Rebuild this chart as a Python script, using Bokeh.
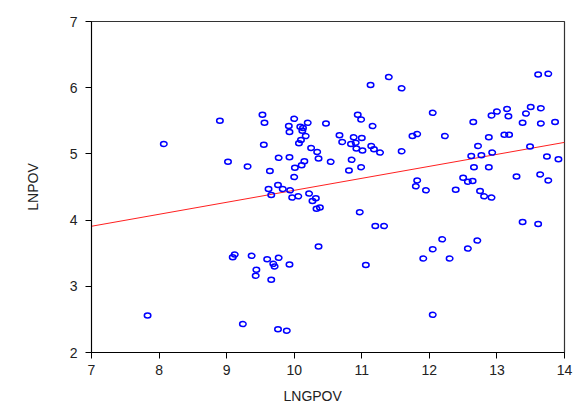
import numpy as np
from bokeh.plotting import figure
from bokeh.models import Range1d, FixedTicker, Title
from bokeh.embed import file_html
from bokeh.resources import INLINE

# log GDP per capita vs. log poverty, one point per observation
lngpov = [
    7.83, 8.07, 8.90, 9.02, 9.31, 9.12, 9.09, 9.37, 9.24, 9.53,
    9.56, 9.55, 9.44, 9.43, 9.60, 9.64, 9.62, 9.66, 9.66, 9.69,
    9.71, 9.76, 9.77, 9.77, 9.76, 9.83, 9.92, 9.93, 9.93, 9.93,
    9.89, 9.94, 9.97, 10.00, 10.00, 10.01, 10.06, 10.09, 10.13, 10.12,
    10.17, 10.10, 10.07, 10.20, 10.15, 10.11, 10.25, 10.34, 10.36, 10.22,
    10.27, 10.32, 10.36, 10.38, 10.33, 10.47, 10.54, 10.67, 10.71, 10.88,
    11.00, 10.84, 10.91, 10.92, 11.01, 11.14, 11.18, 11.27, 11.16, 10.94,
    10.99, 10.85, 10.81, 10.99, 11.13, 11.40, 11.59, 11.59, 10.97, 11.20,
    11.33, 11.06, 11.75, 11.82, 12.05, 12.23, 11.82, 11.80, 11.95, 11.91,
    12.05, 12.19, 12.30, 12.05, 12.39, 12.50, 12.57, 12.64, 12.75, 12.81,
    12.92, 12.57, 12.71, 12.62, 12.66, 12.77, 12.72, 12.65, 12.88, 12.88,
    12.93, 12.92, 13.00, 13.11, 13.18, 13.15, 13.17, 13.29, 13.38, 13.38,
    13.43, 13.50, 13.49, 13.61, 13.61, 13.76, 13.65, 13.65, 13.64, 13.74,
    13.76, 13.86, 13.91,
]
lnpov = [
    2.56, 5.15, 5.50, 4.88, 4.81, 3.48, 3.44, 3.46, 2.43, 5.59,
    5.47, 5.14, 3.25, 3.16, 3.41, 4.74, 4.47, 4.38, 3.10, 3.34,
    3.30, 4.53, 4.94, 3.43, 2.35, 4.47, 5.42, 5.33, 4.95, 3.33,
    2.33, 4.45, 4.34, 5.53, 4.65, 4.79, 4.36, 5.41, 5.39, 5.35,
    5.27, 5.21, 5.16, 5.47, 4.89, 4.83, 5.09, 5.03, 4.93, 4.40,
    4.29, 4.33, 3.60, 4.19, 4.17, 5.46, 4.88, 5.28, 5.18, 5.25,
    5.24, 5.15, 5.17, 5.08, 5.05, 5.12, 5.07, 5.02, 5.42, 5.59,
    5.52, 4.91, 4.75, 4.80, 6.04, 6.16, 5.99, 5.04, 4.12, 3.91,
    3.91, 3.32, 5.27, 5.30, 5.62, 5.27, 4.60, 4.51, 4.45, 3.42,
    3.56, 3.71, 3.42, 2.57, 4.46, 4.64, 4.58, 4.59, 4.44, 4.36,
    4.34, 3.57, 3.69, 4.97, 4.80, 4.98, 5.12, 5.48, 4.80, 5.25,
    5.02, 5.58, 5.64, 5.29, 5.29, 5.68, 5.57, 4.66, 5.47, 3.97,
    5.61, 5.71, 5.11, 3.94, 6.20, 6.21, 5.69, 5.46, 4.69, 4.96,
    4.60, 5.48, 4.92,
]

# fitted regression line LNPOV = a + b * LNGPOV
fit_intercept = 2.64
fit_slope = 0.181

x_ticks = [7, 8, 9, 10, 11, 12, 13, 14]
y_ticks = [2, 3, 4, 5, 6, 7]

p = figure(
    width=576, height=416,
    output_backend="svg", toolbar_location=None,
    x_range=Range1d(7, 14), y_range=Range1d(2, 7),
    min_border_left=91, min_border_right=12,
    min_border_top=21, min_border_bottom=64,
    background_fill_color="white", border_fill_color="white",
)
p.xgrid.visible = False
p.ygrid.visible = False
p.outline_line_color = "#333333"
p.outline_line_width = 1.2

font = "Liberation Sans"
for ax, ticks in ((p.xaxis, x_ticks), (p.yaxis, y_ticks)):
    ax.ticker = FixedTicker(ticks=ticks)
    ax.minor_tick_line_color = None
    ax.major_tick_out = 6
    ax.major_tick_in = 0
    ax.axis_line_color = "black"
    ax.major_tick_line_color = "black"
    ax.major_label_text_font = font
    ax.major_label_text_font_size = "14px"
    ax.major_label_text_color = "#222222"
    ax.axis_label_text_font = font
    ax.axis_label_text_font_size = "14px"
    ax.axis_label_text_font_style = "normal"
    ax.axis_label_text_color = "#222222"

p.xaxis.major_label_standoff = 6
p.yaxis.major_label_standoff = 8
p.yaxis.axis_label = "LNPOV"
p.yaxis.axis_label_standoff = 26

# x-axis title, placed below the tick labels and a little left of centre
p.add_layout(Title(
    text="LNGPOV", align="left", offset=192, standoff=17,
    text_font=font, text_font_size="14px", text_font_style="normal",
    text_color="#222222",
), "below")

# regression line across the full x range
line_x = np.array([p.x_range.start, p.x_range.end])
line_y = fit_intercept + fit_slope * line_x
p.line(line_x, line_y, line_color="#ff2020", line_width=1)

# observations as small open ellipses
p.ellipse(
    x=lngpov, y=lnpov, width=6.5, height=5,
    width_units="screen", height_units="screen",
    fill_color=None, line_color="#0000ff", line_width=1.5,
)

open("out.html", "w").write(file_html(p, INLINE))
